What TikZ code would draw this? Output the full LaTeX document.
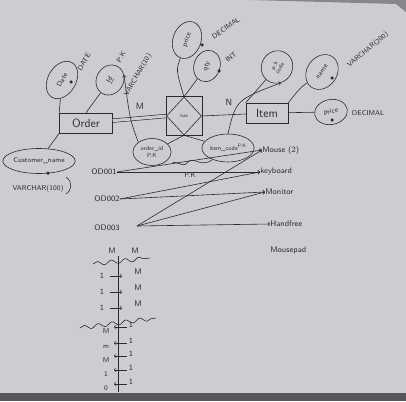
\documentclass[tikz,border=0pt]{standalone}
\usepackage{amsmath}
\usetikzlibrary{shapes.geometric,decorations.pathmorphing}
\definecolor{board}{RGB}{206,204,209}
\definecolor{ink}{RGB}{42,42,48}
\definecolor{frame}{RGB}{88,88,92}

\begin{document}
\begin{tikzpicture}[x=1pt,y=-1pt,line width=0.6pt,draw=ink,text=ink,
    font=\sffamily\fontsize{7}{8}\selectfont,
    ent/.style={draw,rectangle,inner sep=0pt,font=\sffamily\fontsize{12}{13}\selectfont},
    attr/.style={draw,ellipse,inner sep=0pt},
    dot/.style={circle,fill=ink,inner sep=0pt,minimum size=3.5pt},
    lbl/.style={inner sep=0pt},
    wave/.style={decorate,decoration={snake,segment length=14pt,amplitude=2pt}}]
    \useasboundingbox (0,0) rectangle (406,401);
    \fill[board] (0,0) rectangle (406,401);
    \fill[frame] (0,393) rectangle (406,401);
    \fill[frame!60!board] (250,0) -- (406,0) -- (406,12) -- (396,4) -- cycle;

    % entities and relationship
    \node[ent,minimum width=53pt,minimum height=20pt] (order) at (86,123) {Order};
    \node[ent,minimum width=42pt,minimum height=20pt] (item) at (267,113) {Item};
    \node[draw,rectangle,minimum width=36pt,minimum height=39pt] (hasbox) at (184,116) {};
    \node[draw,diamond,inner sep=0pt,minimum width=35pt,minimum height=38pt,
      font=\sffamily\fontsize{5}{6}\selectfont] (has) at (184,116) {has};

    % attributes of Order
    \node[attr,rotate=60,minimum width=40pt,minimum height=28pt] (date) at (62,80) {Date};
    \node[dot] (datedot) at (71,82) {};
    \node[lbl,rotate=60] (datetype) at (84,62) {DATE};
    \node[attr,rotate=60,minimum width=31pt,minimum height=27pt] (id) at (110,80) {\underline{Id}};
    \node[lbl,rotate=60] (idpk) at (121,57) {P.K};
    \node[lbl,rotate=60] (idtype) at (138,75) {VARCHAR(10)};
    \node[attr,minimum width=68pt,minimum height=25pt] (custname) at (39,161) {Customer\_name};
    \node[dot] (custdot) at (48,173) {};
    \node[lbl] (custtype) at (38,189) {VARCHAR(100)};
    \draw (66,177) .. controls (73,182) and (72,190) .. (66,194);

    % attributes of has
    \node[attr,rotate=70,minimum width=38pt,minimum height=28pt] (hprice) at (187,40) {price};
    \node[dot] (hpricedot) at (202,45) {};
    \node[lbl,rotate=35] (hpricetype) at (226,28) {DECIMAL};
    \node[attr,rotate=70,minimum width=32pt,minimum height=26pt] (qty) at (207,66) {qty};
    \node[dot] (qtydot) at (219,71) {};
    \node[lbl,rotate=40] (qtytype) at (231,57) {INT};

    % attributes of Item
    \node[attr,rotate=60,minimum width=33pt,minimum height=31pt,align=center,
      font=\sffamily\fontsize{6}{6}\selectfont] (pkcode) at (277,67) {p.k\\code};
    \node[attr,rotate=55,minimum width=37pt,minimum height=30pt] (name) at (322,72) {name};
    \node[dot] (namedot) at (332,78) {};
    \node[lbl,rotate=40] (nametype) at (368,50) {VARCHAR(200)};
    \node[attr,rotate=10,minimum width=33pt,minimum height=25pt] (iprice) at (331,112) {price};
    \node[dot] (ipricedot) at (332,120) {};
    \node[lbl] (ipricetype) at (368,113) {DECIMAL};

    % keys of has
    \node[attr,minimum width=38pt,minimum height=27pt,align=center,
      font=\sffamily\fontsize{6}{6.5}\selectfont] (orderid) at (152,152) {order\_id\\P.K};
    \node[attr,minimum width=48pt,minimum height=28pt,
      font=\sffamily\fontsize{6}{7}\selectfont] (itemcode) at (228,148) {item\_code$^{\text{P.K}}$};
    \draw (172,164) .. controls (176,158) and (182,170) .. (188,162)
      .. controls (194,156) and (200,168) .. (212,160);
    \node[lbl] (pk) at (190,175) {P.K};

    % connectors
    \draw (date) -- (order.north west);
    \draw (id) -- (order.north);
    \draw (custname) -- (order.south west);
    \draw[double=board,double distance=3pt] (order) -- (has.west);
    \node[lbl,font=\sffamily\fontsize{9}{9}\selectfont] (mlbl) at (140,106) {M};
    \draw (has.east) -- (item);
    \node[lbl,font=\sffamily\fontsize{9}{9}\selectfont] (nlbl) at (229,102) {N};
    \draw (hprice) .. controls (176,70) .. (has.north);
    \draw (qty) -- (has.north);
    \draw (pkcode) -- (item.north west);
    \draw (name) .. controls (300,88) .. (item.north east);
    \draw (item) -- (iprice);
    \draw (orderid) -- (has.south);
    \draw (itemcode) -- (has.south);
    \draw[->] (orderid.north west) .. controls (130,120) .. (id.south east);
    \draw[->] (itemcode.north) .. controls (236,100) .. (pkcode.south west);

    % sample rows
    \node[lbl,font=\sffamily\fontsize{8}{8}\selectfont] (od1) at (104,172) {OD001};
    \node[lbl,font=\sffamily\fontsize{8}{8}\selectfont] (od2) at (107,199) {OD002};
    \node[lbl,font=\sffamily\fontsize{8}{8}\selectfont] (od3) at (107,228) {OD003};
    \coordinate (od3o) at (137,226);
    \node[lbl,anchor=west,font=\sffamily\fontsize{8}{8}\selectfont] (mouse) at (262,150) {Mouse (2)};
    \node[lbl,anchor=west,font=\sffamily\fontsize{8}{8}\selectfont] (keyboard) at (260,172) {keyboard};
    \node[lbl,anchor=west,font=\sffamily\fontsize{8}{8}\selectfont] (monitor) at (265,192) {Monitor};
    \node[lbl,anchor=west,font=\sffamily\fontsize{8}{8}\selectfont] (handfree) at (270,224) {Handfree};
    \node[lbl,anchor=west,font=\sffamily\fontsize{8}{8}\selectfont] (mousepad) at (270,250) {Mousepad};
    \draw[->] (od1.east) -- (mouse.west);
    \draw[->] (od1.east) -- (keyboard.west);
    \draw[->] (od2.east) -- (keyboard.west);
    \draw[->] (od2.east) -- (monitor.west);
    \draw[->] (od3o) -- (mouse.west);
    \draw[->] (od3o) -- (monitor.west);
    \draw[->] (od3o) -- (handfree.west);

    % cardinality sketch
    \node[lbl,font=\sffamily\fontsize{8}{8}\selectfont] (mtop1) at (112,251) {M};
    \node[lbl,font=\sffamily\fontsize{8}{8}\selectfont] (mtop2) at (135,251) {M};
    \draw (118,256) -- (118,392);
    \draw[wave] (93,264) -- (150,258);
    \draw[wave] (80,328) -- (156,318);
    \foreach \i/\y in {1/276,2/292,3/308} {
      \node[lbl,font=\sffamily\fontsize{8}{8}\selectfont] (l\i) at (102,\y) {1};
      \coordinate (c\i) at (122,\y);
      \draw[->] (l\i.east) ++(6,0) -- (c\i);
      \node[lbl,font=\sffamily\fontsize{8}{8}\selectfont] (r\i) at (138,\y-4) {M};
    }
    \foreach \i/\y/\t in {4/331/M,5/347/m,6/360/M,7/374/1,8/388/0} {
      \node[lbl,font=\sffamily\fontsize{7}{7}\selectfont] (b\i) at (106,\y) {\t};
      \node[lbl,font=\sffamily\fontsize{8}{8}\selectfont] (s\i) at (131,\y-6) {1};
      \coordinate (d\i) at (114,\y-4);
      \draw[->] (s\i.west) ++(-2,2) -- (d\i);
    }
\end{tikzpicture}
\end{document}
